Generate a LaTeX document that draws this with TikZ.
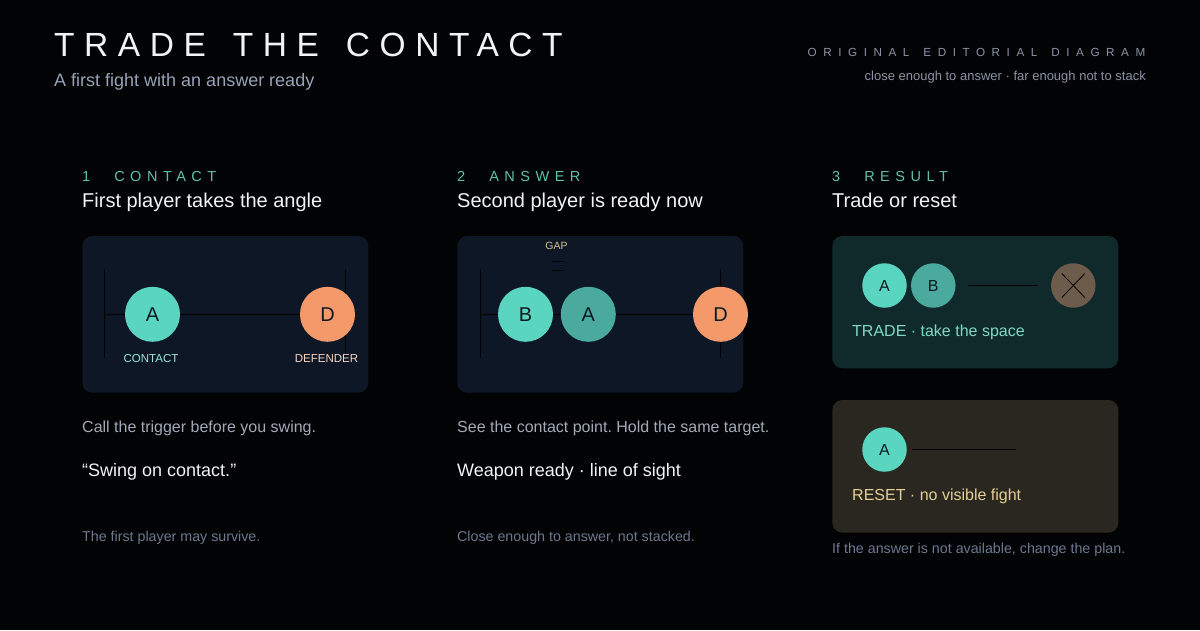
\documentclass[tikz,border=0pt]{standalone}
\usepackage{fontspec}
\setmainfont{Liberation Sans}
\usetikzlibrary{positioning}
\frenchspacing

\definecolor{bg}{HTML}{020304}
\definecolor{navy}{HTML}{0E1726}
\definecolor{teal}{HTML}{10292B}
\definecolor{olive}{HTML}{29271F}
\definecolor{mint}{HTML}{5AD6C0}
\definecolor{deepmint}{HTML}{4AAA9D}
\definecolor{peach}{HTML}{F4996A}
\definecolor{mud}{HTML}{6D5B4B}
\definecolor{ink}{HTML}{0B1A22}
\definecolor{head}{HTML}{5EC2A7}
\definecolor{paper}{HTML}{F1F3F6}
\definecolor{mist}{HTML}{98A3B8}
\definecolor{body}{HTML}{A2AAB8}
\definecolor{foot}{HTML}{6D7890}
\definecolor{rhead}{HTML}{8A93A6}
\definecolor{sand}{HTML}{D6C08E}
\definecolor{tradetxt}{HTML}{80D9C5}
\definecolor{resettxt}{HTML}{E6CF95}

\newcommand{\fsz}[1]{\fontsize{#1}{#1}\selectfont}

\tikzset{
  txt/.style={anchor=base west, inner sep=0pt},
  panel/.style={rounded corners=10pt},
  player/.style={circle, inner sep=0pt, minimum size=55pt, text=ink, font=\fsz{20}},
  token/.style={circle, inner sep=0pt, minimum size=44.5pt, text=ink, font=\fsz{16}},
  track/.style={draw=black, line width=1pt},
  tag/.style={anchor=base, inner sep=0pt, font=\fsz{11.5}},
  stephead/.style={txt, text=head, font=\fsz{14.5}\addfontfeature{LetterSpace=38}},
  steptitle/.style={txt, text=paper, font=\fsz{20}},
  note/.style={txt, text=body, font=\fsz{16}},
  quote/.style={txt, text=paper, font=\fsz{18}},
  foot/.style={txt, text=foot, font=\fsz{14.25}}
}

\begin{document}
\begin{tikzpicture}[x=1pt, y=-1pt]
\useasboundingbox (0,0) rectangle (1200,630);
\fill[bg] (0,0) rectangle (1200,630);

\node[txt, text=paper, font=\fsz{33.5}\addfontfeature{LetterSpace=28.5}] (title) at (54,56) {TRADE\hspace{27pt}THE\hspace{27pt}CONTACT};
\node[txt, text=mist, font=\fsz{18}] (subtitle) at (54,86) {A first fight with an answer ready};
\node[anchor=base east, inner sep=0pt, text=rhead, font=\fsz{11.7}\addfontfeature{LetterSpace=56}] (kicker) at (1145.5,56.7) {ORIGINAL\hspace{14pt}EDITORIAL\hspace{14pt}DIAGRAM};
\node[anchor=base east, inner sep=0pt, text=rhead, font=\fsz{13}] (dek) at (1146,80.7) {close enough to answer · far enough not to stack};

\node[stephead] (h1) at (82,181) {1\hspace{24pt}CONTACT};
\node[steptitle] (t1) at (82,207.5) {First player takes the angle};
\node[stephead] (h2) at (457,181) {2\hspace{24pt}ANSWER};
\node[steptitle] (t2) at (457,207.5) {Second player is ready now};
\node[stephead] (h3) at (832,181) {3\hspace{24pt}RESULT};
\node[steptitle] (t3) at (832,207.5) {Trade or reset};

\fill[navy, panel] (82.3,236) rectangle (368.3,392.7);
\coordinate (l1t) at (104.7,270);
\coordinate (l1b) at (104.7,358.3);
\coordinate (r1t) at (345.3,270);
\coordinate (r1b) at (345.3,358.3);
\coordinate (l1) at (104.7,314.3);
\coordinate (r1) at (345.3,314.3);
\draw[track] (l1t) -- (l1b);
\draw[track] (r1t) -- (r1b);
\draw[track] (l1) -- (r1);
\node[player, fill=mint] (a1) at (152.5,314.3) {A};
\node[player, fill=peach] (d1) at (327.5,314.3) {D};
\node[tag, text=mint!60!white] at (151,362.7) {CONTACT};
\node[tag, text=peach!40!white] at (326.5,362.7) {DEFENDER};

\fill[navy, panel] (457.3,236) rectangle (743.3,392.7);
\coordinate (l2t) at (480.7,270);
\coordinate (l2b) at (480.7,358.3);
\coordinate (r2t) at (720.3,270);
\coordinate (r2b) at (720.3,358.3);
\coordinate (l2) at (480.7,314.3);
\coordinate (r2) at (720.3,314.3);
\draw[track] (l2t) -- (l2b);
\draw[track] (r2t) -- (r2b);
\draw[track] (l2) -- (r2);
\node[player, fill=mint] (b2) at (525.5,314.3) {B};
\node[player, fill=deepmint] (a2) at (588.3,314.3) {A};
\node[player, fill=peach] (d2) at (720.5,314.3) {D};
\node[tag, text=sand, font=\fsz{10.5}] (gap) at (556.5,249) {GAP};
\coordinate (g1) at (551.7,261.8);
\coordinate (g2) at (551.7,270.6);
\draw[track] (g1) -- +(11,0);
\draw[track] (g2) -- +(11,0);

\fill[teal, panel] (832.3,236) rectangle (1118.3,368.3);
\node[token, fill=mint] (a3) at (884.5,285.5) {A};
\node[token, fill=deepmint] (b3) at (933.3,285.5) {B};
\node[token, fill=mud] (x3) at (1073.3,285.5) {};
\draw[track] ([xshift=12pt]b3.east) -- ([xshift=-13.5pt]x3.west);
\draw[black, line width=0.8pt] ([shift={(-11.5,-12)}]x3.center) -- ([shift={(11.5,12)}]x3.center);
\draw[black, line width=0.8pt] ([shift={(-11.5,12)}]x3.center) -- ([shift={(11.5,-12)}]x3.center);
\node[txt, text=tradetxt, font=\fsz{16}] (trade) at (852,336) {TRADE · take the space};

\fill[olive, panel] (832.3,400) rectangle (1118.3,532.7);
\node[token, fill=mint] (a4) at (884.5,449.5) {A};
\coordinate (e4) at (1016,449.5);
\draw[track] (a4.east) ++(5,0) -- (e4);
\node[txt, text=resettxt, font=\fsz{16}] (reset) at (852,500) {RESET · no visible fight};

\node[note] (n1) at (82,432.5) {Call the trigger before you swing.};
\node[quote] (q1) at (82,476) {“Swing on contact.”};
\node[foot] (f1) at (82,541) {The first player may survive.};
\node[note] (n2) at (457,432.5) {See the contact point. Hold the same target.};
\node[quote] (q2) at (457,476) {Weapon ready · line of sight};
\node[foot] (f2) at (457,541) {Close enough to answer, not stacked.};
\node[foot] (f3) at (832,553.3) {If the answer is not available, change the plan.};
\end{tikzpicture}
\end{document}
